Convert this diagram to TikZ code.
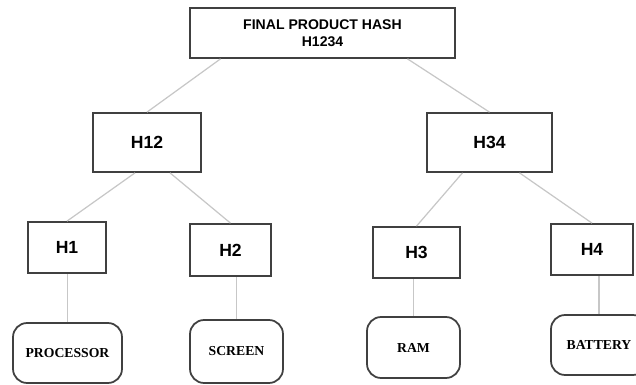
\documentclass[tikz,border=0pt]{standalone}
\usepackage{fontspec}
\setmainfont{Liberation Serif}
\setsansfont{Liberation Sans}
\usepackage{tikz}
\usetikzlibrary{positioning}
\usetikzlibrary{calc}
\tikzstyle{hashbox}=[draw=black!75,line width=1pt,fill=white,inner sep=1pt,font=\sffamily\bfseries\fontsize{10}{12}\selectfont]
\tikzstyle{part}=[draw=black!75,line width=1pt,fill=white,rounded corners=8pt,inner sep=1pt,font=\rmfamily\bfseries\fontsize{7.8}{9}\selectfont]
\tikzstyle{link}=[draw=black!22,line width=0.7pt]

\begin{document}
\begin{tikzpicture}[x=0.02cm,y=-0.02cm]
\useasboundingbox (0,0) rectangle (636,385);
% root of the tree
\node [hashbox,minimum width=5.3cm,minimum height=1cm,align=center,
  font=\sffamily\bfseries\fontsize{8}{10}\selectfont] (root) at (322.5,33) {FINAL PRODUCT HASH\\H1234};
% intermediate hashes
\node [hashbox,minimum width=2.16cm,minimum height=1.18cm] (h12) at (147,142.5) {H12};
\node [hashbox,minimum width=2.5cm,minimum height=1.18cm] (h34) at (489.5,142.5) {H34};
% leaf hashes
\node [hashbox,minimum width=1.56cm,minimum height=1.02cm] (h1) at (67,247.5) {H1};
\node [hashbox,minimum width=1.62cm,minimum height=1.04cm] (h2) at (230.5,250) {H2};
\node [hashbox,minimum width=1.74cm,minimum height=1.02cm] (h3) at (416.5,252.5) {H3};
\node [hashbox,minimum width=1.64cm,minimum height=1.02cm] (h4) at (592,249.5) {H4};
% components
\node [part,minimum width=2.18cm,minimum height=1.2cm] (cpu) at (67.5,353) {PROCESSOR};
\node [part,minimum width=1.86cm,minimum height=1.26cm] (scr) at (236.5,351.5) {SCREEN};
\node [part,minimum width=1.86cm,minimum height=1.22cm] (ram) at (413.5,347.5) {RAM};
\node [part,minimum width=1.92cm,minimum height=1.2cm] (bat) at (599,345) {BATTERY};

% edges
\path [link] ([xshift=-2.04cm]root.south) -- (h12.north);
\path [link] ([xshift=1.7cm]root.south) -- (h34.north);
\path [link] ([xshift=-0.24cm]h12.south) -- (h1.north);
\path [link] ([xshift=0.46cm]h12.south) -- (h2.north);
\path [link] ([xshift=-0.54cm]h34.south) -- (h3.north);
\path [link] ([xshift=0.6cm]h34.south) -- (h4.north);
% straight drops to the components
\path [link] (cpu.north) -- (cpu.north |- h1.south);
\path [link] (scr.north) -- (scr.north |- h2.south);
\path [link] (ram.north) -- (ram.north |- h3.south);
\path [link] (bat.north) -- (bat.north |- h4.south);
\end{tikzpicture}
\end{document}
